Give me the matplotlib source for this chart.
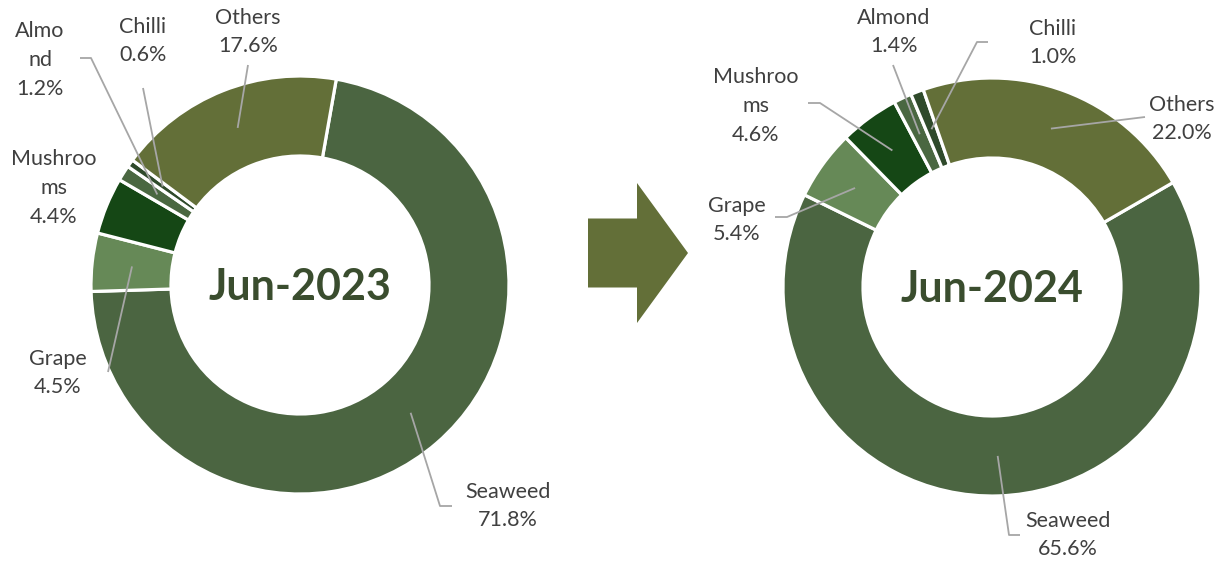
import matplotlib
matplotlib.use("Agg")
import matplotlib.pyplot as plt
from matplotlib.patches import FancyArrow
import numpy as np

plt.rcParams['font.family'] = ['Lato', 'DejaVu Sans']

# ---- data ----
categories_2023 = ["Seaweed", "Grape", "Mushroo\nms", "Almo\nnd", "Chilli", "Others"]
values_2023 = [71.8, 4.5, 4.4, 1.2, 0.6, 17.6]
categories_2024 = ["Seaweed", "Grape", "Mushroo\nms", "Almond", "Chilli", "Others"]
values_2024 = [65.6, 5.4, 4.6, 1.4, 1.0, 22.0]
titles = ["Jun-2023", "Jun-2024"]

colors = ["#4B6541", "#668957", "#154715", "#4A6741", "#2F4A2B", "#636F38"]

W, H = 1219, 563
fig = plt.figure(figsize=(W / 100, H / 100), dpi=100)
ax = fig.add_axes([0, 0, 1, 1])

def Y(y):
    return H - y

charts = [
    dict(vals=values_2023, cats=categories_2023, title=titles[0],
         center=(300, 285), start=10,
         labels=[(508, 506), (58, 373), (54, 188), (40, 60), (143, 41), (248, 32)],
         leaders=[[(452, 506), (440, 506)], [(108, 372)], None,
                  [(80, 58), (91, 58)], [(143, 88)], [(248, 65)]]),
    dict(vals=values_2024, cats=categories_2024, title=titles[1],
         center=(992, 287), start=60,
         labels=[(1068, 535), (737, 220), (756, 106), (894, 32), (1053, 43), (1182, 119)],
         leaders=[[(1020, 535), (1009, 535)], [(775, 217), (787, 217)],
                  [(808, 103), (820, 103)], [(893, 65)],
                  [(988, 42), (977, 42)], [(1145, 117)]]),
]

R_OUT, R_IN = 209, 129
R_MID = (R_OUT + R_IN) / 2

for ch in charts:
    cx, cy = ch["center"]
    wedges, _ = ax.pie(ch["vals"], colors=colors, radius=R_OUT,
                       center=(cx, Y(cy)), startangle=90 - ch["start"],
                       counterclock=False,
                       wedgeprops=dict(width=R_OUT - R_IN, edgecolor="white",
                                       linewidth=2.3))
    for w, cat, val, lp, lead in zip(wedges, ch["cats"], ch["vals"],
                                     ch["labels"], ch["leaders"]):
        ax.text(lp[0], Y(lp[1]), f"{cat}\n{val:.1f}%", ha="center", va="center",
                fontsize=15.5, color="#404040", linespacing=1.55)
        if lead is not None:
            mid = np.deg2rad((w.theta1 + w.theta2) / 2)
            px = cx + R_MID * np.cos(mid)
            py = Y(cy) + R_MID * np.sin(mid)
            xs = [p[0] for p in lead] + [px]
            ys = [Y(p[1]) for p in lead] + [py]
            ax.plot(xs, ys, color="#A6A6A6", lw=1.3, solid_capstyle="butt")
    ax.text(cx, Y(cy + 2), ch["title"], ha="center", va="center", fontsize=31,
            fontweight="bold", color="#3A4D2E")

ax.add_patch(FancyArrow(588, Y(253), 100, 0, width=69, head_width=140,
                        head_length=51, length_includes_head=True,
                        color="#636F38", lw=0))

ax.set_xlim(0, W)
ax.set_ylim(0, H)
ax.set_aspect("equal")
ax.axis("off")
fig.savefig("out.png", dpi=100)
